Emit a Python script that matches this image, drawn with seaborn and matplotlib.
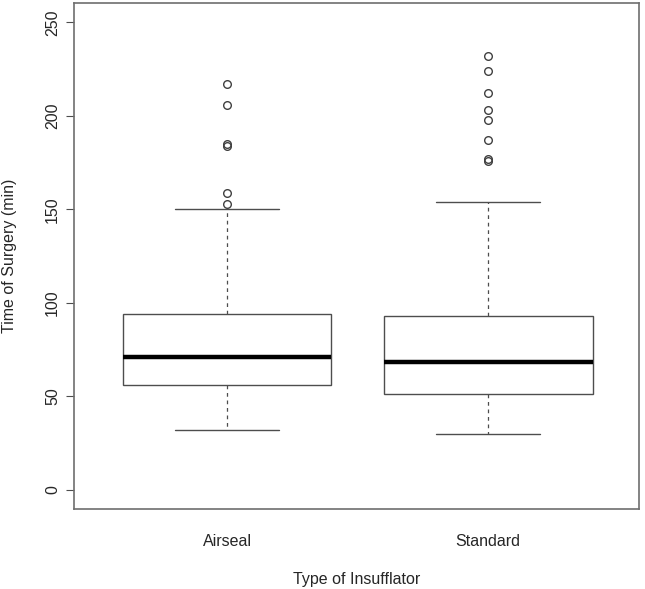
import matplotlib
matplotlib.use("Agg")
import matplotlib.pyplot as plt
import numpy as np
import pandas as pd
import seaborn as sns

# operation times (min)
airseal = [32, 38, 42, 45, 47, 49, 51, 52, 54, 55,
           56, 58, 60, 62, 63, 65, 66, 67, 69, 70,
           71, 73, 75, 77, 79, 81, 84, 86, 88, 91,
           94, 98, 110, 125, 150,
           153, 159, 184, 185, 206, 217]
standard = [30, 34, 37, 40, 42, 44, 46, 47, 49, 50,
            51, 51.5, 53, 55, 57, 59, 61, 62, 64, 65,
            67, 68, 68.5, 70, 72, 74, 77, 79, 82, 85,
            87, 89, 91, 93, 105, 120, 154,
            176, 177, 187, 198, 203, 212, 224, 232]
groups = ["Airseal", "Standard"]
yticks = [0, 50, 100, 150, 200, 250]

df = pd.DataFrame({
    "group": ["Airseal"] * len(airseal) + ["Standard"] * len(standard),
    "time": airseal + standard,
})

sns.set_style("white")
plt.rcParams["font.family"] = ["Liberation Sans", "DejaVu Sans"]

fig = plt.figure(figsize=(6.45, 5.89), dpi=100)
ax = fig.add_axes([0.1147, 0.1358, 0.876, 0.8591])

edge = "#4d4d4d"
sns.boxplot(data=df, x="group", y="time", order=groups, ax=ax,
            width=0.8, whis=1.5, color="white", linecolor=edge, linewidth=1,
            medianprops=dict(color="black", linewidth=3.2),
            whiskerprops=dict(linestyle=(0, (3, 3)), linewidth=0.9),
            capprops=dict(linewidth=1),
            flierprops=dict(marker="o", markersize=5.5, markerfacecolor="none",
                            markeredgecolor="#404040", markeredgewidth=1))

ax.set_xlim(-0.586, 1.578)
ax.set_ylim(-10.2, 260.3)
ax.set_yticks(yticks)
ax.set_yticklabels([str(t) for t in yticks], rotation=90, va="center", fontsize=11.5)
ax.tick_params(axis="y", left=True, length=6, width=0.8, color=edge, pad=4)
ax.tick_params(axis="x", bottom=False, length=0, labelsize=11.5, pad=18)
ax.set_xlabel("Type of Insufflator", fontsize=11.5)
ax.set_ylabel("Time of Surgery (min)", fontsize=11.5)
ax.xaxis.set_label_coords(0.5, -0.140)
ax.yaxis.set_label_coords(-0.115, 0.5)
ax.xaxis.label.set_va("center")
ax.yaxis.label.set_va("center")
for s in ax.spines.values():
    s.set_color("#6e6e6e")
    s.set_linewidth(1.2)

fig.savefig("out.png", dpi=100)
